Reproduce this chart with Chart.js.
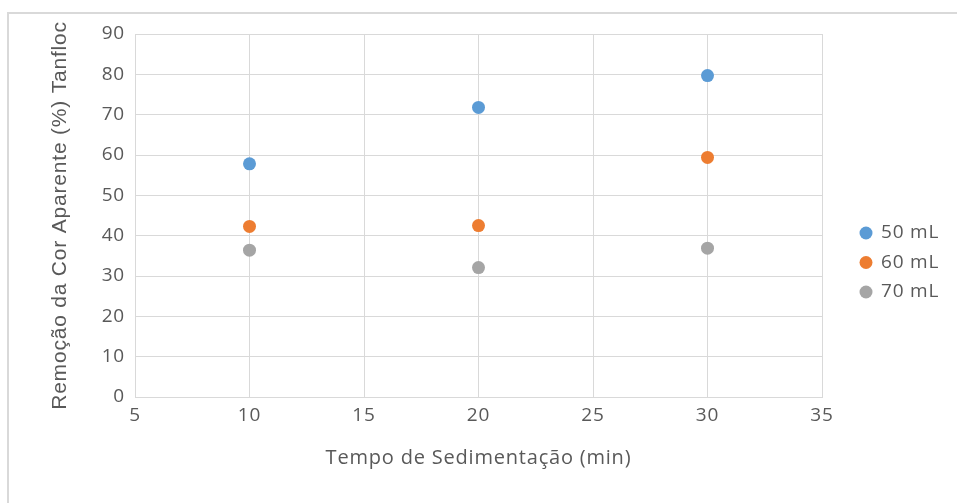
<!DOCTYPE html>
<html>
<head>
<meta charset="utf-8">
<script src="https://cdn.jsdelivr.net/npm/chart.js@4.4.0/dist/chart.umd.min.js"></script>
<style>
    html, body { margin: 0; padding: 0; background: #fff; }
    #wrap { position: relative; width: 957px; height: 503px; overflow: hidden; }
    #frame { position: absolute; left: 7px; top: 12px; right: -5px; bottom: -5px;
             border-top: 2px solid #d9d9d9; border-left: 2px solid #d9d9d9; }
    canvas { position: absolute; left: 0; top: 0; }
</style>
</head>
<body>
<div id="wrap">
    <div id="frame"></div>
    <canvas id="scatter-chart" width="957" height="503"></canvas>
</div>
<script>
// tempo de sedimentação (min)
const tempos = [10, 20, 30];
// remoção da cor aparente (%) por dosagem
const remocao50 = [57.8, 71.8, 79.7];
const remocao60 = [42.3, 42.5, 59.4];
const remocao70 = [36.4, 32.1, 36.9];
const dosagens = ['50 mL', '60 mL', '70 mL'];
const xTickValues = [5, 10, 15, 20, 25, 30, 35];
const yTickValues = [0, 10, 20, 30, 40, 50, 60, 70, 80, 90];

const textColor = '#595959';
const gridColor = '#d9d9d9';

function getColor(label) {
    if (label === '50 mL') return '#5b9bd5';
    if (label === '60 mL') return '#ed7d31';
    if (label === '70 mL') return '#a5a5a5';
}

function toPoints(values) {
    return tempos.map((t, i) => ({ x: t, y: values[i] }));
}

const allSeries = [remocao50, remocao60, remocao70];

// texto um pouco mais espaçado, como no gráfico original
const spacedText = {
    id: 'spacedText',
    beforeLayout(chart) { chart.ctx.letterSpacing = '0.8px'; },
    beforeDraw(chart) { chart.ctx.letterSpacing = '0.8px'; }
};

// legenda desenhada à direita, no estilo do Excel
const sideLegend = {
    id: 'sideLegend',
    afterDraw(chart) {
        const ctx = chart.ctx;
        ctx.save();
        ctx.font = '19px "Open Sans"';
        ctx.textBaseline = 'middle';
        ctx.textAlign = 'left';
        chart.data.datasets.forEach((ds, i) => {
            const y = 233 + i * 29.5;
            ctx.beginPath();
            ctx.arc(866, y, 6.5, 0, Math.PI * 2);
            ctx.fillStyle = ds.backgroundColor;
            ctx.fill();
            ctx.fillStyle = textColor;
            ctx.fillText(ds.label, 881, y);
        });
        ctx.restore();
    }
};

new Chart(document.querySelector('#scatter-chart').getContext('2d'), {
    type: 'scatter',
    data: {
        datasets: dosagens.map((label, index) => ({
            label: label,
            data: toPoints(allSeries[index]),
            backgroundColor: getColor(label),
            borderColor: getColor(label),
            pointRadius: 6.5,
            pointBorderWidth: 0
        }))
    },
    options: {
        responsive: false,
        animation: false,
        layout: { padding: { top: 34, right: 135, left: 0, bottom: 0 } },
        plugins: {
            legend: { display: false },
            tooltip: { enabled: false }
        },
        scales: {
            x: {
                type: 'linear',
                min: 5,
                max: 35,
                afterBuildTicks: scale => { scale.ticks = xTickValues.map(v => ({ value: v })); },
                afterFit: scale => { scale.height = 106; },
                grid: { color: gridColor, drawTicks: false },
                border: { color: gridColor },
                ticks: { color: textColor, font: { family: 'Open Sans', size: 19 }, padding: 7, maxRotation: 0 },
                title: {
                    display: true,
                    text: 'Tempo de Sedimentação (min)',
                    color: textColor,
                    font: { family: 'Open Sans', size: 20 },
                    padding: { top: 0, bottom: 33 }
                }
            },
            y: {
                type: 'linear',
                min: 0,
                max: 90,
                afterBuildTicks: scale => { scale.ticks = yTickValues.map(v => ({ value: v })); },
                afterFit: scale => { scale.width = 135; },
                grid: { color: gridColor, drawTicks: false },
                border: { color: gridColor },
                ticks: { color: textColor, font: { family: 'Open Sans', size: 19 }, padding: 10 },
                title: {
                    display: true,
                    text: 'Remoção da Cor Aparente (%) Tanfloc',
                    color: textColor,
                    font: { family: 'Liberation Sans', size: 21 },
                    padding: { top: 48, bottom: 0 }
                }
            }
        }
    },
    plugins: [spacedText, sideLegend]
});
</script>
</body>
</html>
